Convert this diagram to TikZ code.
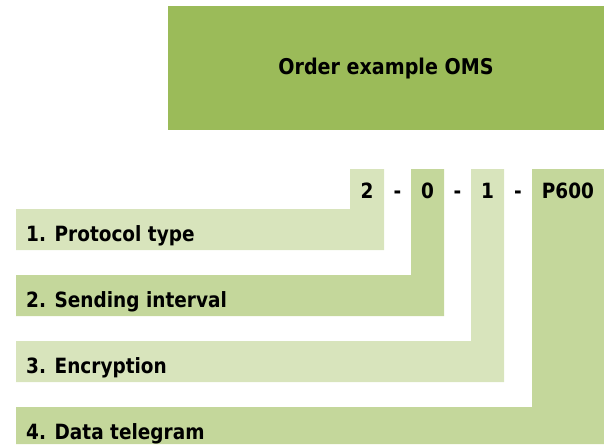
\documentclass[tikz,border=0pt]{standalone}
\usepackage{fontspec}
\setmainfont{DejaVu Sans}[FakeStretch=0.88]
\definecolor{olive}{HTML}{9BBB59}
\definecolor{oliveA}{HTML}{D8E4BC}
\definecolor{oliveB}{HTML}{C4D79B}
\tikzset{
  lbl/.style={font=\bfseries\fontsize{21}{25}\selectfont,inner sep=0pt},
  code/.style={lbl,anchor=base},
}

\begin{document}
\begin{tikzpicture}[x=1pt,y=-1pt]
\useasboundingbox (0,0) rectangle (604,444);
\fill[olive]
  (168,6) rectangle (604,130);
\node[lbl,font=\bfseries\fontsize{21.7}{26}\selectfont] (title) at (386,69) {Order example OMS};
% one column and its bar for every part of the order code
\foreach \i/\c/\xa/\xb/\ya/\yb/\d/\t in {
  1/oliveA/350/384/209/250/2/1. Protocol type,
  2/oliveB/411/444/275/316/0/2. Sending interval,
  3/oliveA/471/504/341/382/1/3. Encryption,
  4/oliveB/532/604/407/444/P600/4. Data telegram}{
\fill[\c]
  (\xa,169) -- (\xb,169) -- (\xb,\yb) -- (16,\yb) -- (16,\ya) -- (\xa,\ya) -- cycle;
\node[code] (part\i) at ({(\xa+\xb)/2},198) {\d};
\node[lbl,anchor=base west] (field\i) at (26,\ya+32) {\t};
}
\node[code] (sep1) at (397.5,198) {-};
\node[code] (sep2) at (457.5,198) {-};
\node[code] (sep3) at (518,198) {-};
\end{tikzpicture}
\end{document}
